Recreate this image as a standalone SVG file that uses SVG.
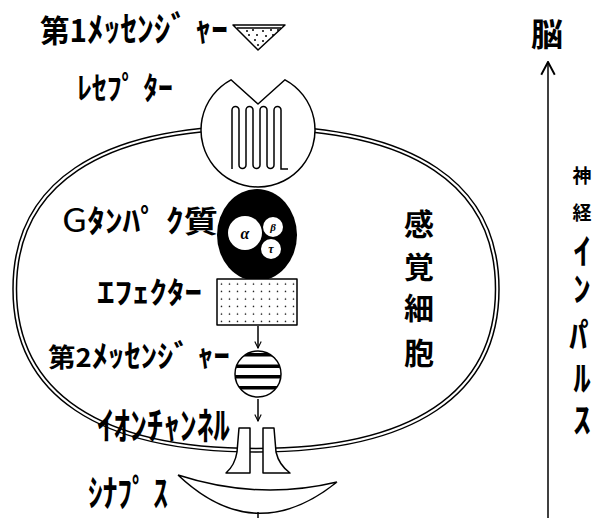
<svg xmlns="http://www.w3.org/2000/svg" width="598" height="518" viewBox="0 0 598 518">
  <style>
    .ln { fill: none; stroke: #000; stroke-width: 1.5; }
    .wf { fill: #fff; stroke: #000; stroke-width: 1.5; stroke-linejoin: round; }
    .lb { font-family: "Noto Sans CJK JP", "Liberation Sans", sans-serif; font-weight: 700; fill: #000; }
    .vt { font-family: "Noto Sans CJK JP", "Liberation Sans", sans-serif; font-weight: 700; fill: #000; text-anchor: middle; }
    .gk { font-family: "Liberation Serif", serif; font-style: italic; font-weight: 700; fill: #000; text-anchor: middle; }
  </style>
  <defs>
    <marker id="arrow" viewBox="0 0 10 10" refX="9" refY="5" markerWidth="8" markerHeight="8" orient="auto" markerUnits="userSpaceOnUse">
      <path d="M1,1 L9,5 L1,9" fill="none" stroke="#000" stroke-width="1.4"/>
    </marker>
    <marker id="arrow-lg" viewBox="0 0 10 10" refX="9.5" refY="5" markerWidth="15" markerHeight="18" orient="auto" markerUnits="userSpaceOnUse">
      <path d="M1,0.5 L9.5,5 L1,9.5" fill="none" stroke="#000" stroke-width="1.3"/>
    </marker>
    <pattern id="dots" patternUnits="userSpaceOnUse" x="217" y="280" width="8" height="7.5">
      <circle cx="4.5" cy="4" r="0.8" fill="#000"/>
    </pattern>
    <clipPath id="msg2-clip">
      <circle cx="258" cy="374" r="23"/>
    </clipPath>
  </defs>

  <!-- sensory cell: double membrane -->
  <g id="cell-membrane">
    <path class="ln" d="M499,289 C499,395 414,452 256,452 C98,452 13,395 13,289 C13,183 98,126 256,126 C414,126 499,183 499,289 Z"/>
    <path class="ln" d="M495.5,289 C495.5,392.7 411.7,448.5 256,448.5 C100.3,448.5 16.5,392.7 16.5,289 C16.5,185.3 100.3,129.5 256,129.5 C411.7,129.5 495.5,185.3 495.5,289 Z"/>
  </g>

  <!-- first messenger -->
  <g id="messenger1">
    <path class="wf" d="M233,25 L285,25 L258,50 Z"/>
    <path class="ln" stroke-width="1" d="M237,28 L281,28"/>
    <g fill="#000">
      <circle cx="247" cy="31" r="1"/><circle cx="253" cy="30" r="1"/><circle cx="263" cy="31" r="1"/><circle cx="271" cy="30" r="1"/><circle cx="278" cy="30" r="1"/>
      <circle cx="249" cy="35" r="1"/><circle cx="257" cy="35" r="1"/><circle cx="266" cy="36" r="1"/><circle cx="273" cy="35" r="1"/>
      <circle cx="255" cy="40" r="1"/><circle cx="263" cy="41" r="1"/>
      <circle cx="258" cy="45" r="1"/>
    </g>
  </g>

  <!-- receptor -->
  <g id="receptor">
    <path class="wf" d="M231,79.8 L258,104 L285,79.8 A57,57 0 1 1 231,79.8 Z"/>
    <path class="ln" stroke-width="1.3" d="M232,169 V110 A3.5,3.5 0 0 1 239,110 V165 A3.5,3.5 0 0 0 246,165 V110 A3.5,3.5 0 0 1 253,110 V165 A3.5,3.5 0 0 0 260,165 V110 A3.5,3.5 0 0 1 267,110 V165 A3.5,3.5 0 0 0 274,165 V110 A3.5,3.5 0 0 1 281,110 V169 H288"/>
  </g>

  <!-- G protein -->
  <g id="g-protein">
    <ellipse cx="257" cy="235" rx="40" ry="46" fill="#000"/>
    <circle cx="245" cy="233" r="17" fill="#fff"/>
    <circle cx="273" cy="227" r="10" fill="#fff"/>
    <circle cx="271" cy="249" r="10" fill="#fff"/>
    <text class="gk" x="245" y="239" font-size="16">α</text>
    <text class="gk" x="273" y="231" font-size="11">β</text>
    <text class="gk" x="271" y="253" font-size="12">τ</text>
  </g>

  <!-- effector -->
  <g id="effector">
    <rect x="217" y="279" width="80" height="46" class="wf"/>
    <rect x="218" y="280" width="78" height="44" fill="url(#dots)"/>
  </g>

  <!-- second messenger -->
  <g id="messenger2">
    <circle cx="258" cy="374" r="23" class="wf"/>
    <g clip-path="url(#msg2-clip)" fill="#000">
      <rect x="230" y="353" width="56" height="3.5"/>
      <rect x="230" y="364.5" width="56" height="3.5"/>
      <rect x="230" y="375" width="56" height="3.5"/>
      <rect x="230" y="386" width="56" height="3.5"/>
    </g>
  </g>

  <!-- ion channel -->
  <g id="ion-channel">
    <path class="wf" d="M239,428 L250,428 L250,473 L226,473 Q235,465 237,452 Z"/>
    <path class="wf" d="M263,428 L274,428 L276,452 Q279,465 290,473 L263,473 Z"/>
  </g>

  <!-- synapse -->
  <g id="synapse">
    <path class="ln" d="M178,475 Q258,501 337,482 M178,475 Q255,548 337,482"/>
  </g>

  <!-- connectors -->
  <g id="connectors">
    <line class="ln" x1="258" y1="326" x2="258" y2="348" marker-end="url(#arrow)"/>
    <line class="ln" x1="258" y1="399" x2="258" y2="421" marker-end="url(#arrow)"/>
    <line class="ln" x1="258" y1="512" x2="258" y2="518"/>
    <line class="ln" stroke-width="2.5" x1="548" y1="518" x2="548" y2="62" marker-end="url(#arrow-lg)"/>
  </g>

  <!-- labels -->
  <g id="labels">
    <text class="lb" x="40" y="42" textLength="188" lengthAdjust="spacingAndGlyphs"><tspan font-size="31">第1</tspan><tspan font-size="35">ﾒｯｾﾝｼﾞ ｬｰ</tspan></text>
    <text class="lb" x="77" y="99" font-size="31" textLength="96" lengthAdjust="spacingAndGlyphs">ﾚｾﾌﾟ ﾀｰ</text>
    <text class="lb" x="62" y="232" textLength="156" lengthAdjust="spacingAndGlyphs"><tspan font-size="32" font-weight="400">G</tspan><tspan font-size="31">ﾀﾝﾊﾟ ｸ</tspan><tspan font-size="30">質</tspan></text>
    <text class="lb" x="97" y="303" font-size="30" textLength="105" lengthAdjust="spacingAndGlyphs">ｴﾌｪｸﾀｰ</text>
    <text class="lb" x="48" y="367" textLength="182" lengthAdjust="spacingAndGlyphs"><tspan font-size="26">第2</tspan><tspan font-size="31">ﾒｯｾﾝｼﾞ ｬｰ</tspan></text>
    <text class="lb" x="97" y="439" font-size="38" textLength="133" lengthAdjust="spacingAndGlyphs">ｲｵﾝﾁｬﾝﾈﾙ</text>
    <text class="lb" x="88" y="507" font-size="37" textLength="80" lengthAdjust="spacingAndGlyphs">ｼﾅﾌﾟ ｽ</text>
  </g>

  <g id="cell-label" class="vt" font-size="30">
    <text x="419" y="235">感</text>
    <text x="419" y="278">覚</text>
    <text x="419" y="319">細</text>
    <text x="419" y="364">胞</text>
  </g>

  <g id="brain">
    <text class="vt" x="547" y="46" font-size="32">脳</text>
  </g>

  <!-- vertical caption: each glyph placed on its own row -->
  <g id="impulse-label" class="vt">
    <text x="582" y="183" font-size="19">神</text>
    <text x="582" y="220" font-size="19">経</text>
    <text font-size="35" x="582 582 578 589 582 582" y="264 302 349 349 391 433">ｲﾝﾊﾟﾙｽ</text>
  </g>
</svg>
